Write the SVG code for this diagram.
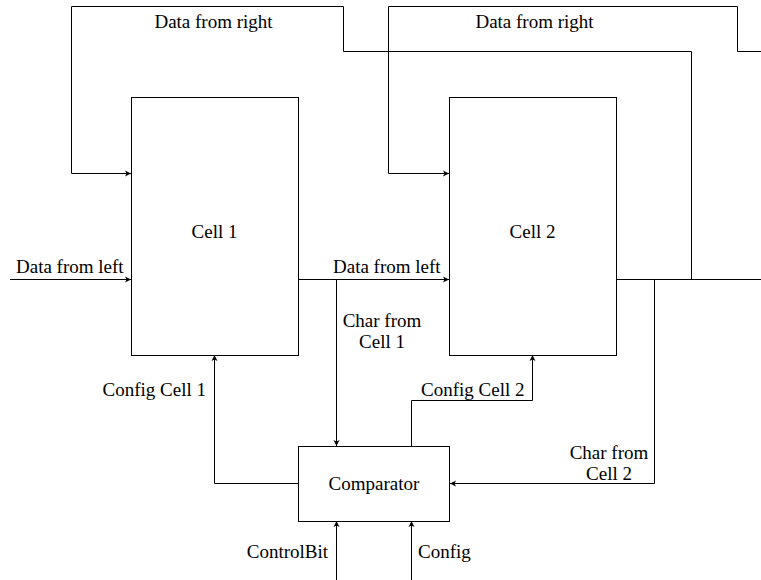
<svg xmlns="http://www.w3.org/2000/svg" width="761" height="580" viewBox="0 0 761 580">
  <style>
    .box { fill: #ffffff; stroke: #000000; stroke-width: 1; }
    .wire { fill: none; stroke: #000000; stroke-width: 1; }
    .arr { marker-end: url(#head); }
    text { font-family: 'Liberation Serif', 'Times New Roman', Times, 'DejaVu Serif', serif; font-size: 19px; fill: #000000; }
    .mid { text-anchor: middle; }
    .end { text-anchor: end; }
  </style>
  <defs>
    <marker id="head" markerUnits="userSpaceOnUse" markerWidth="8" markerHeight="8" viewBox="0 0 8 8" refX="7" refY="4" orient="auto">
      <path d="M1,1 L7,4 L1,7 L2.5,4 Z" fill="#000000"/>
    </marker>
  </defs>
  <rect width="761" height="580" fill="#ffffff"/>

  <g id="connectors">
    <!-- feedback from the right into Cell 1 -->
    <polyline class="wire arr" points="691.5,279.5 691.5,51.5 343.5,51.5 343.5,6.5 71.5,6.5 71.5,173.5 131,173.5"/>
    <!-- feedback from the right into Cell 2 -->
    <polyline class="wire" points="761,51.5 737.5,51.5 737.5,6.5 388.5,6.5"/>
    <polyline class="wire arr" points="388.5,6.5 388.5,173.5 449,173.5"/>
    <!-- data from the left -->
    <line class="wire arr" x1="10" y1="279.5" x2="131" y2="279.5"/>
    <line class="wire arr" x1="298" y1="279.5" x2="449" y2="279.5"/>
    <line class="wire" x1="616" y1="279.5" x2="761" y2="279.5"/>
    <!-- characters to the comparator -->
    <line class="wire arr" x1="336.5" y1="279.5" x2="336.5" y2="446"/>
    <polyline class="wire arr" points="654.5,279.5 654.5,483.5 450,483.5"/>
    <!-- configuration back to the cells -->
    <polyline class="wire arr" points="298,483.5 214.5,483.5 214.5,355"/>
    <polyline class="wire arr" points="411.5,446 411.5,400.5 532.5,400.5 532.5,355"/>
    <!-- comparator inputs -->
    <line class="wire arr" x1="336.5" y1="580" x2="336.5" y2="521"/>
    <line class="wire arr" x1="411.5" y1="580" x2="411.5" y2="521"/>
  </g>

  <g id="cell1">
    <rect class="box" x="131.5" y="97.5" width="167" height="258"/>
    <text class="mid" x="214.5" y="238">Cell 1</text>
  </g>

  <g id="cell2">
    <rect class="box" x="449.5" y="97.5" width="167" height="258"/>
    <text class="mid" x="532.5" y="238">Cell 2</text>
  </g>

  <g id="comparator">
    <rect class="box" x="298.5" y="446.5" width="151" height="75"/>
    <text class="mid" x="374" y="490">Comparator</text>
  </g>

  <g id="labels">
    <text class="mid" x="213.5" y="28">Data from right</text>
    <text class="mid" x="534.5" y="28">Data from right</text>
    <text x="16" y="273">Data from left</text>
    <text x="333" y="273">Data from left</text>
    <text class="mid" x="382" y="327">Char from</text>
    <text class="mid" x="382" y="348">Cell 1</text>
    <text class="end" x="206" y="396">Config Cell 1</text>
    <text x="421" y="396">Config Cell 2</text>
    <text class="mid" x="609" y="459">Char from</text>
    <text class="mid" x="609" y="480">Cell 2</text>
    <text class="end" x="328" y="558">ControlBit</text>
    <text x="418" y="558">Config</text>
  </g>
</svg>
